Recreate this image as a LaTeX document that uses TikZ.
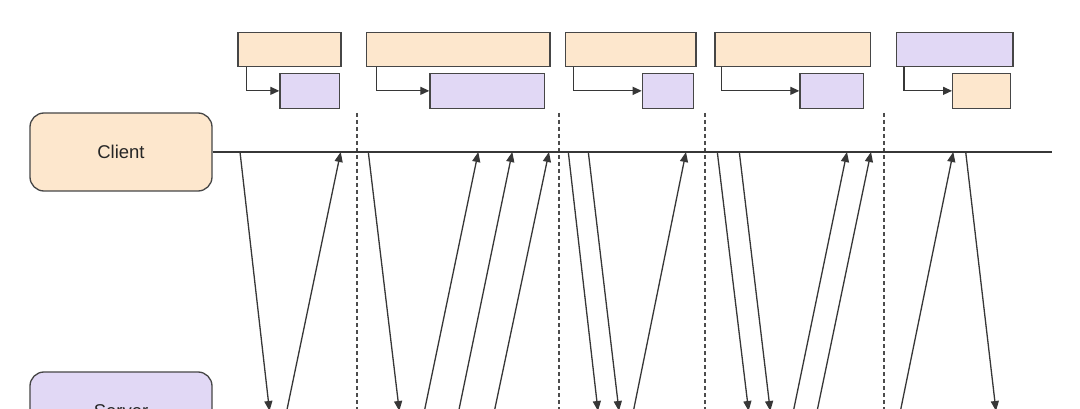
\documentclass[tikz,border=0pt]{standalone}
\usepackage{fontspec}
\setmainfont{Liberation Sans}
\usetikzlibrary{arrows.meta}
\definecolor{peach}{RGB}{253,231,205}
\definecolor{lav}{RGB}{225,216,245}
\definecolor{edgec}{RGB}{70,70,70}
\definecolor{linec}{RGB}{55,55,55}
\begin{document}
\begin{tikzpicture}[x=1pt,y=-1pt,
  bx/.style={draw=edgec, line width=1.3pt, inner sep=0pt, anchor=north west},
  orb/.style={bx, fill=peach},
  pub/.style={bx, fill=lav},
  actor/.style={draw=edgec, line width=1.3pt, rounded corners=14pt, minimum width=182pt, minimum height=78pt, inner sep=0pt, font=\fontsize{18.5}{22}\selectfont, text=black!85},
  msg/.style={draw=linec, line width=1.3pt, -{Triangle[length=10pt,width=8pt]}},
  link/.style={draw=linec, line width=1.3pt, -{Triangle[length=9pt,width=8pt]}},
  sep/.style={draw=black!70, line width=1.3pt, dash pattern=on 4pt off 3pt},
  life/.style={draw=linec, line width=1.4pt}
]
\useasboundingbox (0,0) rectangle (1080,409);
\clip (0,0) rectangle (1080,409);
\fill[white] (0,0) rectangle (1080,409);

% separators
\foreach \x [count=\i] in {357,559,705,884}{
  \coordinate (s\i t) at (\x,113);
  \coordinate (s\i b) at (\x,430);
  \draw[sep] (s\i t) -- (s\i b);
}

% top boxes
\node[orb, minimum width=103pt, minimum height=34.3pt] (o1) at (237.3,31.7) {};
\node[pub, minimum width=59.4pt, minimum height=35pt] (p1) at (279.3,72.7) {};
\node[orb, minimum width=183.6pt, minimum height=34.3pt] (o2) at (365.7,31.7) {};
\node[pub, minimum width=114.7pt, minimum height=35pt] (p2) at (429.3,72.7) {};
\node[orb, minimum width=130.6pt, minimum height=34.3pt] (o3) at (564.7,31.7) {};
\node[pub, minimum width=51pt, minimum height=35pt] (p3) at (641.7,72.7) {};
\node[orb, minimum width=155.7pt, minimum height=34.3pt] (o4) at (714.3,31.7) {};
\node[pub, minimum width=63.7pt, minimum height=35pt] (p4) at (799.3,72.7) {};
\node[pub, minimum width=116.3pt, minimum height=34.3pt] (p5) at (896,31.7) {};
\node[orb, minimum width=57.7pt, minimum height=35pt] (o5) at (952,72.7) {};

\draw[link] ([xshift=9.4pt]o1.south west) |- (p1.west);
\draw[link] ([xshift=11pt]o2.south west) |- (p2.west);
\draw[link] ([xshift=8.6pt]o3.south west) |- (p3.west);
\draw[link] ([xshift=7pt]o4.south west) |- (p4.west);
\draw[link] ([xshift=8pt]p5.south west) |- (o5.west);

% actors
\node[actor, fill=peach] (client) at (121,152) {Client};
\node[actor, fill=lav] (server) at (121,411) {Server};
\coordinate (cend) at (1052,152);
\coordinate (send) at (1052,411);
\draw[life] (client.east) -- (cend);
\draw[life] (server.east) -- (send);

% client -> server
\foreach \a/\b [count=\i] in {240/269.5,368.3/399.3,568.3/598,588.3/619,717.3/748.6,739.3/770.3,965.7/996}{
  \coordinate (d\i t) at (\a,152);
  \coordinate (d\i b) at (\b,411);
  \draw[msg] (d\i t) -- (d\i b);
}
% server -> client
\foreach \b/\a [count=\i] in {286.7/340.7,424.4/478.3,458.7/512.3,494.4/549,633.4/686,793.4/847,817.1/871,900.4/953.3}{
  \coordinate (u\i b) at (\b,411);
  \coordinate (u\i t) at (\a,152);
  \draw[msg] (u\i b) -- (u\i t);
}
\end{tikzpicture}
\end{document}
